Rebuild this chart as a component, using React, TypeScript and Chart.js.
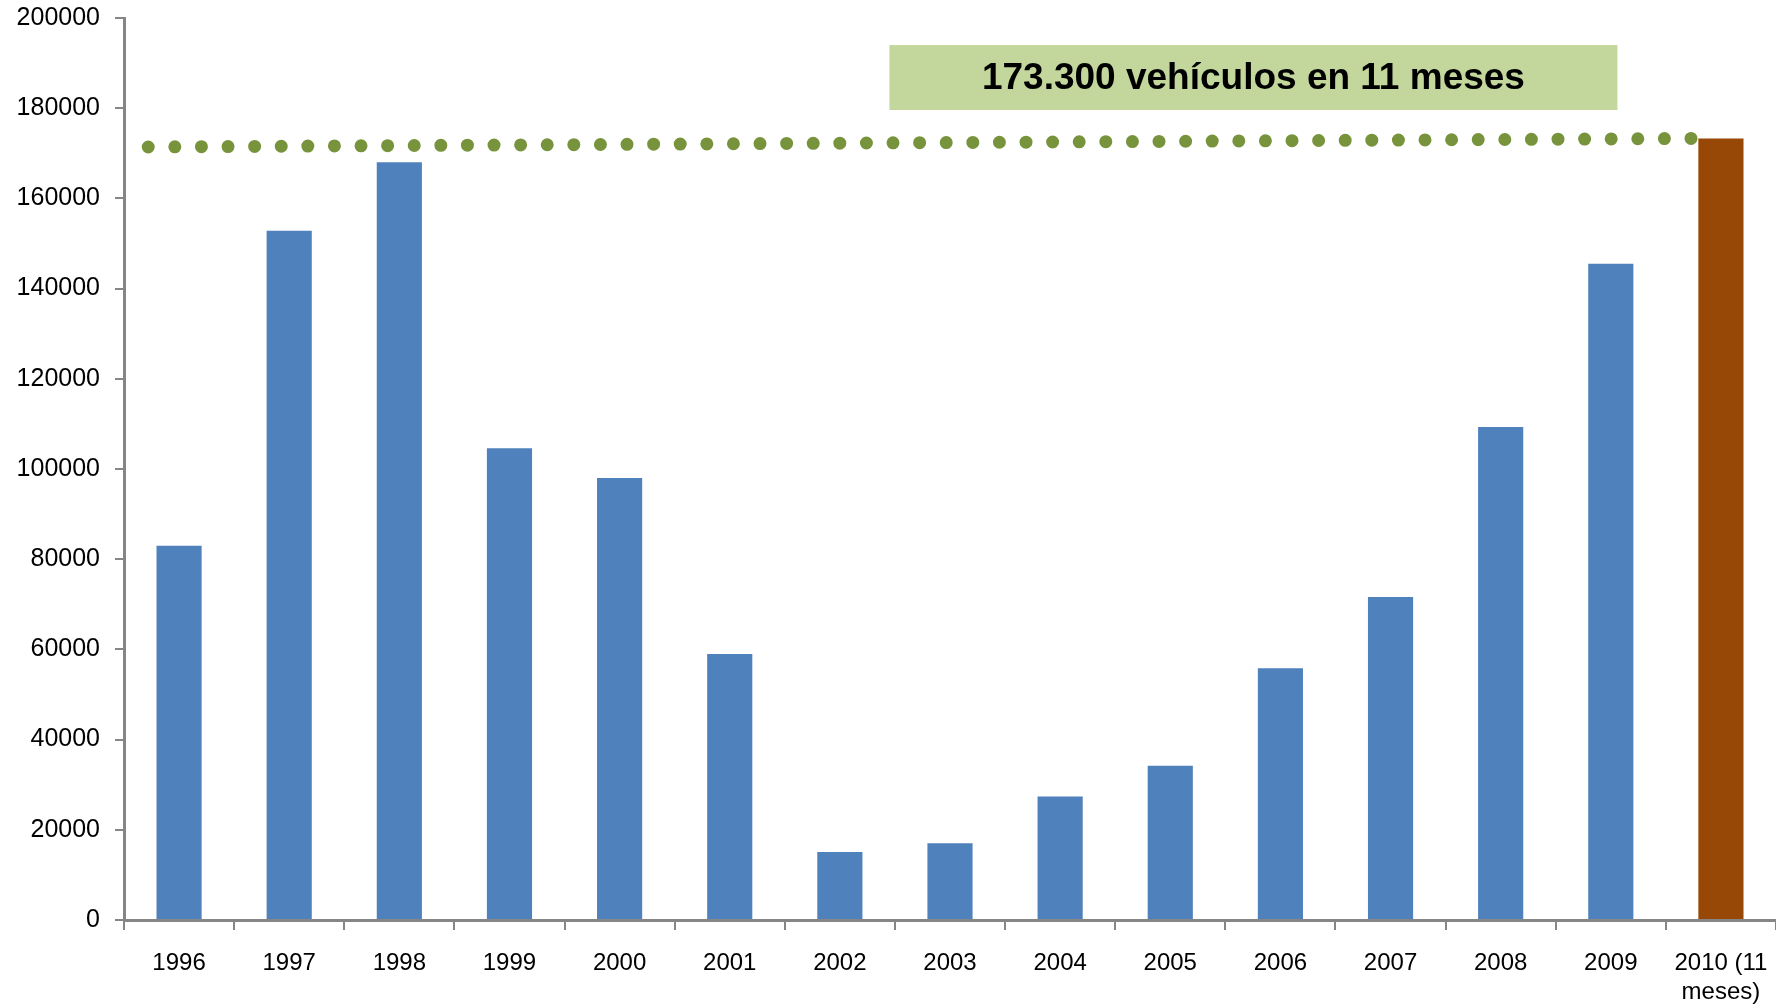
import React, { useEffect, useRef } from "react";
import { Chart, registerables } from "chart.js";

Chart.register(...registerables);

const categories: (string | string[])[] = [
  "1996", "1997", "1998", "1999", "2000", "2001", "2002", "2003",
  "2004", "2005", "2006", "2007", "2008", "2009", ["2010 (11", "meses)"],
];
const vehicles = [
  83000, 152800, 168000, 104600, 98000, 59000, 15100, 17000,
  27400, 34200, 55800, 71600, 109300, 145500, 173300,
];
const barColors = [
  "#4F81BD", "#4F81BD", "#4F81BD", "#4F81BD", "#4F81BD", "#4F81BD", "#4F81BD",
  "#4F81BD", "#4F81BD", "#4F81BD", "#4F81BD", "#4F81BD", "#4F81BD", "#4F81BD",
  "#974706",
];
// dotted reference line (category-index x, value y)
const refLineX = [-0.28, 13.77];
const refLineY = [171400, 173300];
// annotation box in data units
const noteText = "173.300 vehículos en 11 meses";
const noteX = [6.45, 13.06];
const noteY = [194000, 179600];

const yTicks = { min: 0, max: 200000, step: 20000 };

const notePlugin = {
  id: "noteBox",
  afterDatasetsDraw(chart: any) {
    const { ctx, scales } = chart;
    const xs = scales.x;
    const ys = scales.y;
    const x0 = xs.getPixelForValue(noteX[0]);
    const x1 = xs.getPixelForValue(noteX[1]);
    const y0 = ys.getPixelForValue(noteY[0]);
    const y1 = ys.getPixelForValue(noteY[1]);
    ctx.save();
    ctx.fillStyle = "#C3D69B";
    ctx.fillRect(x0, y0, x1 - x0, y1 - y0);
    ctx.fillStyle = "#000000";
    ctx.font = "bold 37px 'Liberation Sans', Arial, sans-serif";
    ctx.textAlign = "center";
    ctx.textBaseline = "middle";
    ctx.fillText(noteText, (x0 + x1) / 2, (y0 + y1) / 2 + 1);
    ctx.restore();
  },
};

export default function App() {
  const ref = useRef<HTMLCanvasElement | null>(null);
  useEffect(() => {
    document.body.style.margin = "0";
    const canvas = ref.current;
    if (!canvas) return;
    const axisGray = "#868686";
    const xFont = { family: "'Liberation Sans', Arial, sans-serif", size: 24 };
    const yFont = { family: "'Liberation Sans', Arial, sans-serif", size: 25 };
    const chart = new Chart(canvas, {
      type: "bar",
      data: {
        datasets: [
          {
            type: "bar",
            data: vehicles.map((v, i) => ({ x: i, y: v })),
            backgroundColor: barColors,
            barPercentage: 0.41,
            categoryPercentage: 1,
            grouped: false,
            xAxisID: "x",
            yAxisID: "y",
            order: 2,
          } as any,
          {
            type: "line",
            data: refLineX.map((x, i) => ({ x, y: refLineY[i] })),
            borderColor: "#77933C",
            borderWidth: 13,
            borderDash: [0, 26.6],
            borderCapStyle: "round",
            pointRadius: 0,
            fill: false,
            xAxisID: "x",
            yAxisID: "y",
            order: 1,
          } as any,
        ],
      },
      options: {
        responsive: false,
        animation: false,
        layout: { padding: { top: 18, right: 0, left: 0, bottom: 0 } },
        plugins: { legend: { display: false }, tooltip: { enabled: false } },
        scales: {
          x: {
            type: "linear",
            display: false,
            offset: false,
            bounds: "data",
            min: -0.5,
            max: 14.5,
            grid: { offset: false },
          },
          xCat: {
            type: "category",
            position: "bottom",
            labels: categories as any,
            offset: true,
            grid: {
              offset: true,
              drawOnChartArea: false,
              drawTicks: true,
              tickLength: 10,
              color: axisGray,
              lineWidth: 2,
            },
            border: { color: axisGray, width: 3 },
            ticks: { color: "#000", font: xFont, padding: 19, maxRotation: 0, autoSkip: false },
            afterFit: (s: any) => { s.height = 88; s.paddingLeft = 0; s.paddingRight = 0; },
          },
          y: {
            type: "linear",
            min: yTicks.min,
            max: yTicks.max,
            grid: {
              drawOnChartArea: false,
              drawTicks: true,
              tickLength: 9,
              color: axisGray,
              lineWidth: 2,
            },
            border: { color: axisGray, width: 3 },
            ticks: {
              stepSize: yTicks.step,
              color: "#000",
              font: yFont,
              padding: 15,
              callback: (v: any) => String(v),
            },
            afterFit: (s: any) => { s.width = 124; s.paddingTop = 0; s.paddingBottom = 0; },
          },
        },
      } as any,
      plugins: [notePlugin],
    });
    return () => chart.destroy();
  }, []);
  return (
    <div style={{ width: 1776, height: 1008, background: "#fff" }}>
      <canvas ref={ref} width={1776} height={1008} style={{ display: "block" }} />
    </div>
  );
}
